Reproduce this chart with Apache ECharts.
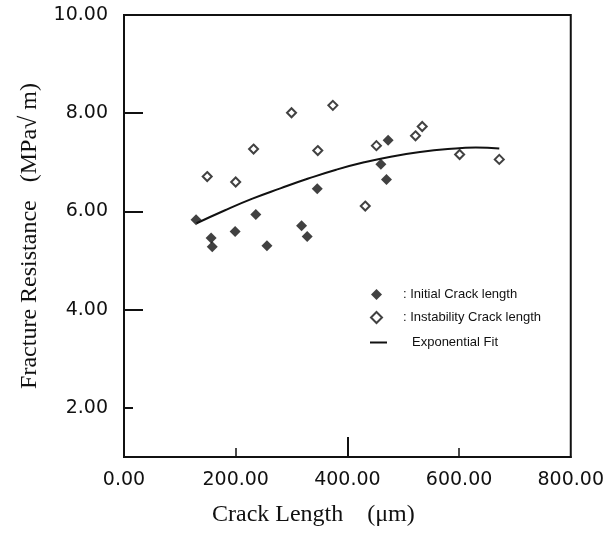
<!DOCTYPE html>
<html>
<head>
<meta charset="utf-8">
<script src="https://cdn.jsdelivr.net/npm/echarts@6/dist/echarts.min.js"></script>
<style>
  html, body { margin: 0; padding: 0; background: #fff; }
  #chart { width: 607px; height: 534px; }
</style>
</head>
<body>
<div id="chart"></div>
<script>
// initial crack length (filled diamonds)
const initialX = [129, 156, 158, 199, 236, 256, 318, 328, 346, 460, 470, 473]
const initialY = [5.83, 5.46, 5.28, 5.59, 5.94, 5.30, 5.71, 5.49, 6.46, 6.96, 6.65, 7.45]

// instability crack length (open diamonds)
const instabX = [149, 200, 232, 300, 347, 374, 432, 452, 522, 534, 601, 672]
const instabY = [6.71, 6.60, 7.27, 8.01, 7.24, 8.16, 6.11, 7.34, 7.54, 7.73, 7.16, 7.06]

// exponential fit curve
const fitX = [130, 180, 230, 280, 330, 380, 430, 480, 530, 580, 630, 672]
const fitY = [5.76, 6.02, 6.26, 6.47, 6.67, 6.85, 7.00, 7.12, 7.21, 7.27, 7.30, 7.28]

const xLabelTicks = [0, 200, 400, 600, 800]
const yLabelTicks = [2, 4, 6, 8, 10]

const pairs = (xs, ys) => xs.map((x, i) => [x, ys[i]])

const chart = echarts.init(document.getElementById('chart'))

const labelFont = { color: '#111', fontFamily: 'DejaVu Sans', fontSize: 19 }
const nameFont = { color: '#111', fontFamily: 'Liberation Serif', fontSize: 24 }
const legendFont = { color: '#111', fontFamily: 'Liberation Sans', fontSize: 13 }

const option = {
  backgroundColor: '#fff',
  animation: false,
  grid: {
    left: 124, top: 15, width: 450, height: 442,
    show: true, borderColor: '#111', borderWidth: 2,
  },
  legend: [
    {
      // marker entries
      orient: 'vertical',
      left: 365,
      top: 283,
      itemWidth: 11,
      itemHeight: 11,
      itemGap: 10,
      textStyle: { ...legendFont, padding: [0, 0, 0, 16] },
      formatter: (name) => ': ' + name,
      data: [
        { name: 'Initial Crack length', icon: 'diamond' },
        { name: 'Instability Crack length', icon: 'diamond' },
      ],
    },
    {
      // fit line entry
      orient: 'vertical',
      left: 365,
      top: 331,
      itemWidth: 17,
      itemHeight: 2,
      textStyle: { ...legendFont, padding: [0, 0, 0, 20] },
      data: [{ name: 'Exponential Fit', icon: 'rect' }],
    },
  ],
  xAxis: [
    {
      type: 'value',
      min: 0,
      max: 800,
      name: 'Crack Length    (μm)',
      nameLocation: 'middle',
      nameGap: 46,
      nameTextStyle: { ...nameFont, padding: [0, 68, 0, 0] },
      axisLine: { show: true, lineStyle: { color: '#111', width: 2 } },
      axisTick: { show: true, inside: true, length: 9, customValues: [200, 600], lineStyle: { color: '#111', width: 1.5 } },
      axisLabel: { ...labelFont, margin: 14, customValues: xLabelTicks, formatter: (v) => v.toFixed(2) },
      splitLine: { show: false },
    },
    {
      type: 'value',
      min: 0,
      max: 800,
      position: 'bottom',
      axisLine: { show: false },
      axisTick: { show: true, inside: true, length: 20, customValues: [400], lineStyle: { color: '#111', width: 2 } },
      axisLabel: { show: false },
      splitLine: { show: false },
    },
  ],
  yAxis: [
    {
      type: 'value',
      min: 1,
      max: 10,
      name: 'Fracture Resistance   (MPa√ m)',
      nameLocation: 'middle',
      nameGap: 82,
      nameTextStyle: nameFont,
      axisLine: { show: true, lineStyle: { color: '#111', width: 2 } },
      axisTick: { show: true, inside: true, length: 19, customValues: [4, 6, 8, 10], lineStyle: { color: '#111', width: 2 } },
      axisLabel: { ...labelFont, margin: 16, customValues: yLabelTicks, formatter: (v) => v.toFixed(2) },
      splitLine: { show: false },
    },
    {
      type: 'value',
      min: 1,
      max: 10,
      position: 'left',
      axisLine: { show: false },
      axisTick: { show: true, inside: true, length: 9, customValues: [2], lineStyle: { color: '#111', width: 2 } },
      axisLabel: { show: false },
      splitLine: { show: false },
    },
  ],
  series: [
    {
      name: 'Initial Crack length',
      type: 'scatter',
      symbol: 'diamond',
      symbolSize: 11,
      itemStyle: { color: '#111' },
      data: pairs(initialX, initialY),
    },
    {
      name: 'Instability Crack length',
      type: 'scatter',
      symbol: 'diamond',
      symbolSize: 9,
      itemStyle: { color: '#fff', borderColor: '#111', borderWidth: 2 },
      data: pairs(instabX, instabY),
    },
    {
      name: 'Exponential Fit',
      type: 'line',
      smooth: true,
      symbol: 'none',
      lineStyle: { color: '#111', width: 2 },
      itemStyle: { color: '#111' },
      data: pairs(fitX, fitY),
    },
  ],
}

chart.setOption(option)
</script>
</body>
</html>
